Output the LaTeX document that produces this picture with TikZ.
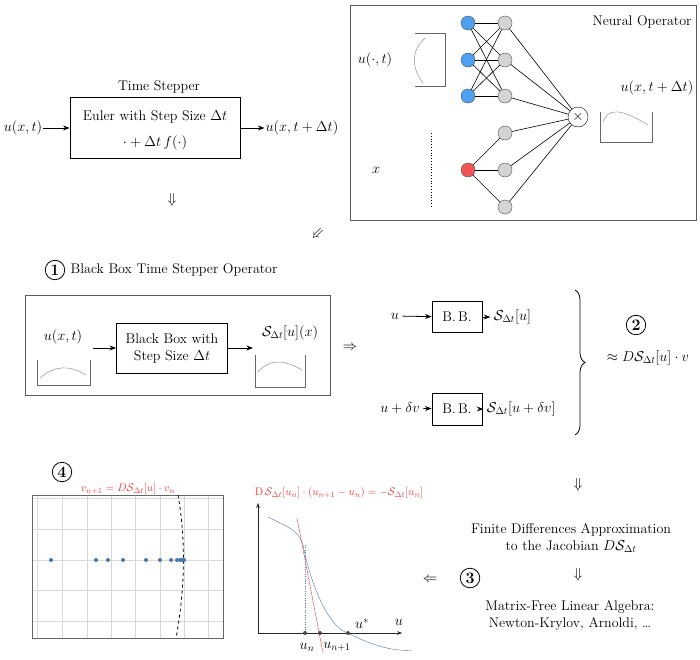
\documentclass[tikz,border=0pt]{standalone}
\usepackage{amsmath,amssymb}
\usetikzlibrary{arrows.meta, positioning, decorations.pathreplacing}
\definecolor{nnblue}{RGB}{80,160,240}
\definecolor{nnred}{RGB}{240,85,85}
\definecolor{nngray}{RGB}{212,212,212}
\definecolor{plotblue}{RGB}{70,120,170}
\definecolor{hlred}{RGB}{240,60,60}

\begin{document}
\begin{tikzpicture}[
    x=1pt, y=-1pt,
    font=\fontsize{14}{17}\selectfont,
    box/.style={rectangle, draw, thick, align=center},
    frame/.style={draw, gray!70!black, thick},
    arrow/.style={-Stealth, thick},
    neuron/.style={circle, draw=black!70, minimum size=14pt, inner sep=0pt},
    numcirc/.style={circle, draw, thick, inner sep=2pt, font=\fontsize{16}{18}\selectfont\bfseries},
    minibox/.style={draw, gray!80!black},
    redlab/.style={text=hlred, font=\fontsize{11}{13}\selectfont}
]
\useasboundingbox (0,0) rectangle (700,659);

% Time stepper
\node at (159,87) (tstitle) {Time Stepper};
\node[box, minimum width=170pt, minimum height=61pt] at (155,128) (euler) {};
\node at (155,117) (eulertxt) {Euler with Step Size $\Delta t$};
\node at (155,143) (eulerrhs) {$\cdot+\Delta t\, f(\cdot)$};
\node[inner sep=1pt] at (23,128) (uin) {$u(x,t)$};
\node[inner sep=1pt] at (302,128) (uout) {$u(x,t+\Delta t)$};
\draw[arrow] (uin) -- (euler);
\draw[arrow] (euler) -- (uout);
\node at (172,200) (dn1) {$\Downarrow$};

% Neural operator
\draw[frame] (350,5) rectangle (696,220);
\node at (642,22) (notitle) {Neural Operator};
\node at (375,60) (uinput) {$u(\cdot,t)$};
\draw[minibox] (415,33) -- (445,33) -- (445,86) -- (415,86);
\draw[gray] (425,38) .. controls (410,52) and (412,68) .. (423,83);
\node at (376,170) (xinput) {$x$};
\draw[dotted, thick] (431,133) -- (431,207);
\foreach \i/\y in {1/23,2/60,3/96} {
  \node[neuron, fill=nnblue] at (468,\y) (in\i) {};
  \node[neuron, fill=nngray] at (505,\y) (hu\i) {};
}
\foreach \i/\y in {1/133,2/170,3/207}
  \node[neuron, fill=nngray] at (505,\y) (hl\i) {};
\node[neuron, fill=nnred] at (468,170) (inx) {};
\node[circle, draw, minimum size=20pt, inner sep=0pt] at (578,117) (prod) {$\times$};
\foreach \i in {1,2,3} {
  \foreach \j in {1,2,3}
    \draw[semithick] (in\i) -- (hu\j);
  \draw[semithick] (inx) -- (hl\i);
  \draw[semithick] (hu\i) -- (prod);
  \draw[semithick] (hl\i) -- (prod);
}
\node at (657,88) (uoutno) {$u(x,t+\Delta t)$};
\draw[minibox] (600,112) -- (600,142) -- (652,142) -- (652,112);
\draw[gray] (603,122) .. controls (608,108) and (620,108) .. (648,125);
\node[rotate=45] at (318,235) (dn2) {$\Leftarrow$};

% Step 1
\node[numcirc] at (55,270) (num1) {1};
\node[right=2pt of num1] (bbtitle) {Black Box Time Stepper Operator};
\draw[frame] (25,295) rectangle (330,395);
\node at (63,337) (ubb) {$u(x,t)$};
\draw[minibox] (37,360) -- (37,385) -- (90,385) -- (90,360);
\draw[gray] (40,378) .. controls (55,365) and (70,365) .. (86,375);
\node[box, minimum width=111pt, minimum height=50pt] at (172,348) (bbox) {Black Box with\\Step Size $\Delta t$};
\node at (290,333) (sbb) {$\mathcal{S}_{\Delta t}[u](x)$};
\draw[minibox] (255,355) -- (255,387) -- (305,387) -- (305,355);
\coordinate (bbin) at (93,348);
\coordinate (bbout) at (253,348);
\draw[arrow] (bbin) -- (bbox);
\draw[arrow] (bbox) -- (bbout);
\draw[gray] (258,372) .. controls (270,358) and (285,360) .. (302,370);
\node at (350,348) (rarr) {$\Rightarrow$};

% Step 2
\node[box, minimum width=50pt, minimum height=31pt] at (457,317) (bb1) {B.\,B.};
\node[box, minimum width=50pt, minimum height=32pt] at (457,409) (bb2) {B.\,B.};
\node at (395,316) (u1) {$u$};
\node at (400,408) (u2) {$u+\delta v$};
\node[right=8pt of bb1] (s1) {$\mathcal{S}_{\Delta t}[u]$};
\node[right=1pt of bb2] (s2) {$\mathcal{S}_{\Delta t}[u+\delta v]$};
\draw[arrow] (u1) -- (bb1);
\draw[arrow] (u2) -- (bb2);
\draw[arrow] (bb1) -- (s1);
\draw[arrow] (bb2) -- (s2);
\draw[thick, decorate, decoration={brace, amplitude=10pt}] (575,290) -- (575,435);
\node[numcirc] at (636,325) (num2) {2};
\node at (648,358) (approx) {$\approx D\mathcal{S}_{\Delta t}[u]\cdot v$};
\node at (578,485) (dn3) {$\Downarrow$};

% Step 3
\node[align=center] at (571,538) (fd) {Finite Differences Approximation\\to the Jacobian $D\mathcal{S}_{\Delta t}$};
\node at (578,575) (dn4) {$\Downarrow$};
\node[align=center] at (570,615) (mf) {Matrix-Free Linear Algebra:\\Newton-Krylov, Arnoldi, \dots};
\node[numcirc] at (470,578) (num3) {3};
\node at (430,580) (larr) {$\Leftarrow$};

% Step 4: spectrum plot
\node[numcirc] at (62,472) (num4) {4};
\node[redlab] at (128,489) (powlab) {$v_{n+1}=D\mathcal{S}_{\Delta t}[u]\cdot v_n$};
\foreach \x in {37,62,87,111,135,160,184,208}
  \draw[gray!30] (\x,495) -- (\x,638);
\foreach \y in {498,529,560,590,621}
  \draw[gray!30] (32,\y) -- (223,\y);
\draw[gray!80!black] (32,495) rectangle (223,638);
\draw[dashed, thick] (178,495) .. controls (186,540) and (185,590) .. (176,638);
\foreach \x in {51,96,108,123,146,160,171,177,180,182,184}
  \fill[plotblue] (\x,560) circle (2pt);

% Newton plot
\node[redlab] at (339,493) (nwlab) {$\mathrm{D}\,\mathcal{S}_{\Delta t}[u_n]\cdot(u_{n+1}-u_n)=-\mathcal{S}_{\Delta t}[u_n]$};
\coordinate (orig) at (258,633);
\coordinate (yend) at (258,503);
\coordinate (xend) at (402,633);
\draw[-Stealth, gray!30!black] (orig) -- (yend);
\draw[-Stealth, gray!30!black] (orig) -- (xend);
\node at (399,622) (ulab) {$u$};
\draw[plotblue] (268,517) .. controls (290,528) and (298,530) .. (303,545)
  .. controls (312,590) and (330,628) .. (348,633)
  .. controls (370,645) and (395,652) .. (412,650);
\draw[hlred] (297,518) -- (323,653);
\draw[dotted, plotblue] (305,545) -- (305,633);
\foreach \x in {305,320,348}
  \fill[black!70] (\x,633) circle (2pt);
\node at (307,647) (unlab) {$u_n$};
\node at (337,647) (unplab) {$u_{n+1}$};
\node at (362,624) (ustlab) {$u^{*}$};
\end{tikzpicture}
\end{document}
